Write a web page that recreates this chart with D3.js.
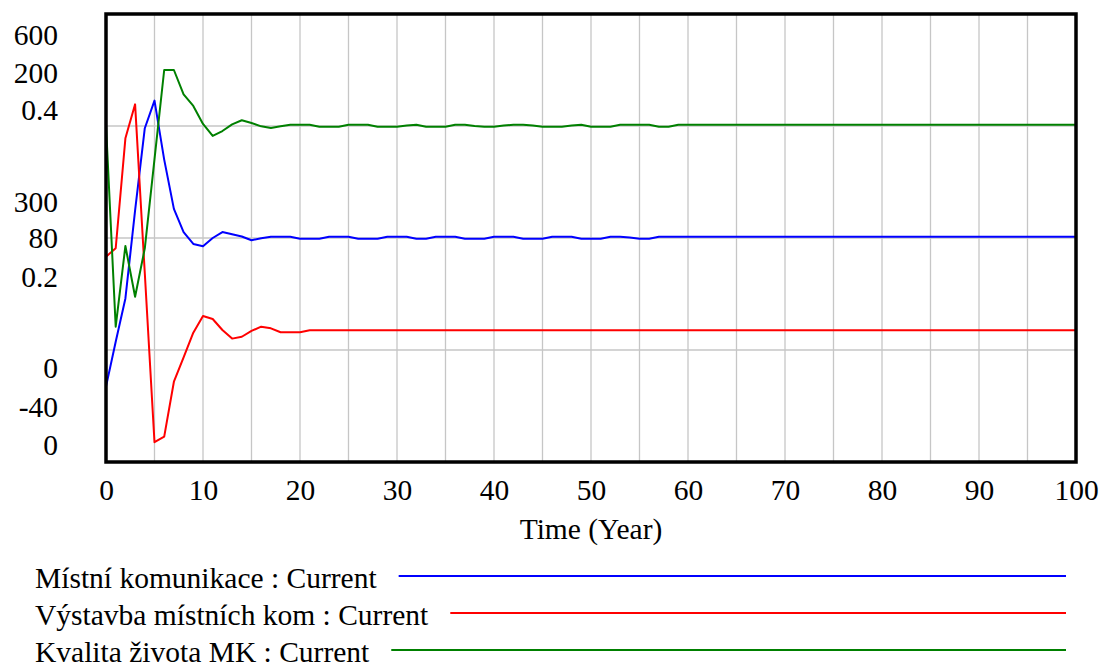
<!DOCTYPE html>
<html>
<head>
<meta charset="utf-8">
<script src="https://cdn.jsdelivr.net/npm/d3@7"></script>
<style>
  html, body { margin: 0; padding: 0; background: #ffffff; }
  svg { display: block; }
  text { font-family: "Liberation Serif", "Times New Roman", serif; fill: #000; }
</style>
</head>
<body>
<svg id="chart" width="1102" height="666"></svg>
<script>
// ---------------- DATA ----------------
const years = d3.range(0, 101); // time axis 0..100 (Year)

const seriesNames = [
  "Místní komunikace : Current",
  "Výstavba místních kom : Current",
  "Kvalita života MK : Current"
];
const seriesColors = ["#0000ff", "#ff0000", "#008000"];

// Místní komunikace (scale 0..600)
const mistniKomunikace = [
  101, 161, 219, 337, 447, 484, 405, 339, 308, 292,
  289, 300, 308, 305, 302, 297, 299.6, 301.7, 301.7, 301.7,
  299.1, 299.1, 299.1, 301.7, 301.7, 301.7, 299.1, 299.1, 299.1, 301.7,
  301.7, 301.7, 299.1, 299.1, 301.7, 301.7, 301.7, 299.1, 299.1, 299.1,
  301.7, 301.7, 301.7, 299.1, 299.1, 299.1, 301.7, 301.7, 301.7, 299.1,
  299.1, 299.1, 301.7, 301.7, 300.7, 299.1, 299.1, 301.7, 301.7, 301.7,
  301.7, 301.7, 301.7, 301.7, 301.7, 301.7, 301.7, 301.7, 301.7, 301.7,
  301.7, 301.7, 301.7, 301.7, 301.7, 301.7, 301.7, 301.7, 301.7, 301.7,
  301.7, 301.7, 301.7, 301.7, 301.7, 301.7, 301.7, 301.7, 301.7, 301.7,
  301.7, 301.7, 301.7, 301.7, 301.7, 301.7, 301.7, 301.7, 301.7, 301.7,
  301.7
];

// Výstavba místních kom (scale -40..200)
const vystavbaMistnichKom = [
  70.0, 74.5, 133.4, 151.6, 61.1, -29.4, -26.4, 3.0, 16.0, 29.3,
  38.2, 36.6, 30.7, 26.1, 27.1, 30.2, 32.5, 31.6, 29.5, 29.5,
  29.5, 30.6, 30.6, 30.6, 30.6, 30.6, 30.6, 30.6, 30.6, 30.6,
  30.6, 30.6, 30.6, 30.6, 30.6, 30.6, 30.6, 30.6, 30.6, 30.6,
  30.6, 30.6, 30.6, 30.6, 30.6, 30.6, 30.6, 30.6, 30.6, 30.6,
  30.6, 30.6, 30.6, 30.6, 30.6, 30.6, 30.6, 30.6, 30.6, 30.6,
  30.6, 30.6, 30.6, 30.6, 30.6, 30.6, 30.6, 30.6, 30.6, 30.6,
  30.6, 30.6, 30.6, 30.6, 30.6, 30.6, 30.6, 30.6, 30.6, 30.6,
  30.6, 30.6, 30.6, 30.6, 30.6, 30.6, 30.6, 30.6, 30.6, 30.6,
  30.6, 30.6, 30.6, 30.6, 30.6, 30.6, 30.6, 30.6, 30.6, 30.6,
  30.6
];

// Kvalita života MK (scale 0..0.4)
const kvalitaZivotaMK = [
  0.3009, 0.1208, 0.1929, 0.1476, 0.1908, 0.2705, 0.3500, 0.3500, 0.3283, 0.3179,
  0.3018, 0.2911, 0.2955, 0.3015, 0.3051, 0.3027, 0.2997, 0.2982, 0.2997, 0.3012,
  0.3012, 0.3012, 0.2994, 0.2994, 0.2994, 0.3012, 0.3012, 0.3012, 0.2994, 0.2994,
  0.2994, 0.3004, 0.3012, 0.2994, 0.2994, 0.2994, 0.3012, 0.3012, 0.3000, 0.2994,
  0.2994, 0.3004, 0.3012, 0.3012, 0.3004, 0.2994, 0.2994, 0.2994, 0.3004, 0.3012,
  0.2994, 0.2994, 0.2994, 0.3012, 0.3012, 0.3012, 0.3012, 0.2994, 0.2994, 0.3012,
  0.3012, 0.3012, 0.3012, 0.3012, 0.3012, 0.3012, 0.3012, 0.3012, 0.3012, 0.3012,
  0.3012, 0.3012, 0.3012, 0.3012, 0.3012, 0.3012, 0.3012, 0.3012, 0.3012, 0.3012,
  0.3012, 0.3012, 0.3012, 0.3012, 0.3012, 0.3012, 0.3012, 0.3012, 0.3012, 0.3012,
  0.3012, 0.3012, 0.3012, 0.3012, 0.3012, 0.3012, 0.3012, 0.3012, 0.3012, 0.3012,
  0.3012
];

// y tick labels for each series: [min, mid, max]
const ticksMistni = [0, 300, 600];
const ticksVystavba = [-40, 80, 200];
const ticksKvalita = [0, 0.2, 0.4];

const xTickValues = [0, 10, 20, 30, 40, 50, 60, 70, 80, 90, 100];
const xGridValues = d3.range(0, 101, 5);
const xTitle = "Time (Year)";

// ---------------- LAYOUT ----------------
const L = 106, R = 1076, T = 14, B = 462;
const FS = 29.5;

const svg = d3.select("#chart");

const x = d3.scaleLinear().domain([0, 100]).range([L, R]);
const yScales = [
  d3.scaleLinear().domain([ticksMistni[0], ticksMistni[2]]).range([B, T]),
  d3.scaleLinear().domain([ticksVystavba[0], ticksVystavba[2]]).range([B, T]),
  d3.scaleLinear().domain([ticksKvalita[0], ticksKvalita[2]]).range([B, T])
];
const allTicks = [ticksMistni, ticksVystavba, ticksKvalita];
const allData = [mistniKomunikace, vystavbaMistnichKom, kvalitaZivotaMK];

// grid
const grid = svg.append("g");
grid.selectAll("line.vx").data(xGridValues).join("line")
  .attr("x1", d => x(d)).attr("x2", d => x(d))
  .attr("y1", T).attr("y2", B)
  .attr("stroke", "#c6c6c6").attr("stroke-width", 1.3);
const hGrid = d3.scaleLinear().domain([0, 4]).range([B, T]);
grid.selectAll("line.hy").data([1, 2, 3]).join("line")
  .attr("x1", L).attr("x2", R)
  .attr("y1", d => hGrid(d)).attr("y2", d => hGrid(d))
  .attr("stroke", "#c6c6c6").attr("stroke-width", 1.3);

// lines
const lineGen = (ys) => d3.line()
  .x((d, i) => x(years[i]))
  .y(d => ys(d));
allData.forEach((data, k) => {
  svg.append("path")
    .datum(data)
    .attr("fill", "none")
    .attr("stroke", seriesColors[k])
    .attr("stroke-width", 2)
    .attr("stroke-linejoin", "round")
    .attr("d", lineGen(yScales[k]));
});

// border
svg.append("rect")
  .attr("x", L).attr("y", T)
  .attr("width", R - L).attr("height", B - T)
  .attr("fill", "none").attr("stroke", "#000").attr("stroke-width", 3.5);

// y labels (three stacked groups: max at top, mid at center, min at bottom)
const yLab = svg.append("g").attr("text-anchor", "end").style("font-size", FS + "px");
const groupBase = [
  { idx: 2, base: T, offsets: [31, 69, 106] },
  { idx: 1, base: hGrid(2), offsets: [-26, 10, 49] },
  { idx: 0, base: B, offsets: [-84, -45, -7] }
];
groupBase.forEach(g => {
  allTicks.forEach((tk, k) => {
    yLab.append("text")
      .attr("x", 58)
      .attr("y", g.base + g.offsets[k])
      .text(String(tk[g.idx]));
  });
});

// x axis labels
const xAxis = d3.axisBottom(x).tickValues(xTickValues).tickSize(0).tickPadding(0)
  .tickFormat(d3.format("d"));
const xg = svg.append("g").attr("transform", `translate(0,${B})`).call(xAxis);
xg.select(".domain").remove();
xg.selectAll("text")
  .attr("dy", null).attr("y", 38)
  .style("font-size", FS + "px")
  .style("font-family", "'Liberation Serif', 'Times New Roman', serif")
  .attr("fill", "#000");

svg.append("text")
  .attr("x", (L + R) / 2).attr("y", 539)
  .attr("text-anchor", "middle")
  .style("font-size", FS + "px")
  .text(xTitle);

// legend
const legBase = [588, 625, 662];
seriesNames.forEach((name, k) => {
  const t = svg.append("text")
    .attr("x", 35).attr("y", legBase[k])
    .style("font-size", FS + "px")
    .text(name);
  const w = t.node().getComputedTextLength();
  svg.append("line")
    .attr("x1", 35 + w + 22).attr("x2", 1066)
    .attr("y1", legBase[k] - 12).attr("y2", legBase[k] - 12)
    .attr("stroke", seriesColors[k]).attr("stroke-width", 2);
});
</script>
</body>
</html>
